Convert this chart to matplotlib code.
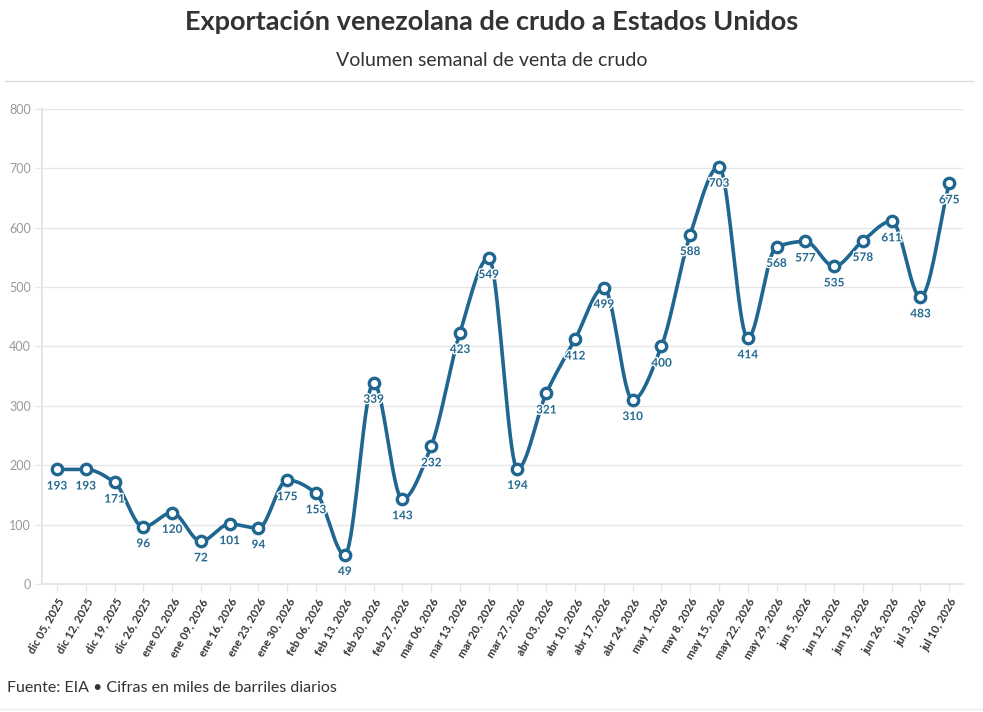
import numpy as np
import matplotlib.pyplot as plt
import matplotlib.patheffects as pe
from matplotlib.lines import Line2D

fechas = ["dic 05, 2025", "dic 12, 2025", "dic 19, 2025", "dic 26, 2025",
          "ene 02, 2026", "ene 09, 2026", "ene 16, 2026", "ene 23, 2026",
          "ene 30, 2026", "feb 06, 2026", "feb 13, 2026", "feb 20, 2026",
          "feb 27, 2026", "mar 06, 2026", "mar 13, 2026", "mar 20, 2026",
          "mar 27, 2026", "abr 03, 2026", "abr 10, 2026", "abr 17, 2026",
          "abr 24, 2026", "may 1, 2026", "may 8, 2026", "may 15, 2026",
          "may 22, 2026", "may 29, 2026", "jun 5, 2026", "jun 12, 2026",
          "jun 19, 2026", "jun 26, 2026", "jul 3, 2026", "jul 10, 2026"]
volumen = [193, 193, 171, 96, 120, 72, 101, 94, 175, 153, 49, 339, 143, 232,
           423, 549, 194, 321, 412, 499, 310, 400, 588, 703, 414, 568, 577,
           535, 578, 611, 483, 675]
y_ticks = [0, 100, 200, 300, 400, 500, 600, 700, 800]

AZUL = "#1f6790"
GRIS = "#e6e6e6"


def monotone(x, y, n=20):
    # curva monotona (tipo d3 monotoneX)
    x = np.asarray(x, float)
    y = np.asarray(y, float)
    h = np.diff(x)
    s = np.diff(y) / h
    m = np.zeros_like(y)
    for i in range(1, len(y) - 1):
        if s[i - 1] * s[i] <= 0:
            m[i] = 0
        else:
            m[i] = 3 * (h[i - 1] + h[i]) / ((2 * h[i] + h[i - 1]) / s[i - 1] + (h[i] + 2 * h[i - 1]) / s[i])
    m[0] = s[0]
    m[-1] = s[-1]
    xs, ys = [], []
    for i in range(len(x) - 1):
        t = np.linspace(0, 1, n, endpoint=False)
        h00 = 2 * t**3 - 3 * t**2 + 1
        h10 = t**3 - 2 * t**2 + t
        h01 = -2 * t**3 + 3 * t**2
        h11 = t**3 - t**2
        xs.append(x[i] + t * h[i])
        ys.append(h00 * y[i] + h10 * h[i] * m[i] + h01 * y[i + 1] + h11 * h[i] * m[i + 1])
    xs.append([x[-1]])
    ys.append([y[-1]])
    return np.concatenate(xs), np.concatenate(ys)


fig = plt.figure(figsize=(9.83, 7.12), dpi=100)
plt.rcParams['font.family'] = ['Lato', 'DejaVu Sans']

ax = fig.add_axes([0.0427, 0.1798, 0.9370, 0.6671])
x = np.arange(len(volumen))
cx, cy = monotone(x, volumen)
ax.plot(cx, cy, color=AZUL, lw=2.6, zorder=3, solid_capstyle='round')
ax.plot(x, volumen, 'o', ms=7.5, mfc='white', mec=AZUL, mew=2.4, zorder=4)

for xi, v in zip(x, volumen):
    ax.annotate(str(v), (xi, v), xytext=(0, -8), textcoords='offset points',
                ha='center', va='top', fontsize=8.5, fontweight='bold', color='#24698f',
                zorder=5, path_effects=[pe.withStroke(linewidth=2, foreground='white')])

ax.set_xlim(-0.52, 31.48)
ax.set_ylim(0, 800)
ax.set_yticks(y_ticks)
ax.set_yticklabels([str(t) for t in y_ticks], color='#999999', fontsize=9)
ax.set_xticks(x)
ax.set_xticklabels(fechas, rotation=60, ha='right', rotation_mode='anchor',
                   fontsize=8, fontweight='bold', color='#333333')
ax.tick_params(axis='x', length=6, color=GRIS, width=1, pad=3)
ax.tick_params(axis='y', length=5, color=GRIS, width=1, pad=3)
ax.grid(axis='y', color=GRIS, lw=1)
ax.set_axisbelow(True)
for side in ['top', 'right']:
    ax.spines[side].set_visible(False)
ax.spines['left'].set_color(GRIS)
ax.spines['bottom'].set_color(GRIS)
ax.spines['left'].set_linewidth(1.5)
ax.spines['bottom'].set_linewidth(1.5)

fig.text(0.5, 1 - 22 / 712, "Exportación venezolana de crudo a Estados Unidos",
         ha='center', va='center', fontsize=19.5, fontweight='bold', color='#333333')
fig.text(0.5, 1 - 60 / 712, "Volumen semanal de venta de crudo",
         ha='center', va='center', fontsize=14, color='#333333')
fig.add_artist(Line2D([5 / 983, 973 / 983], [1 - 81 / 712] * 2, color='#dddddd', lw=1))
fig.text(7 / 983, 1 - 688 / 712, "Fuente: EIA • Cifras en miles de barriles diarios",
         ha='left', va='center', fontsize=11.5, color='#333333')
fig.add_artist(Line2D([0, 1], [1 - 709 / 712] * 2, color='#eeeeee', lw=1))

fig.savefig("out.png", dpi=100)
